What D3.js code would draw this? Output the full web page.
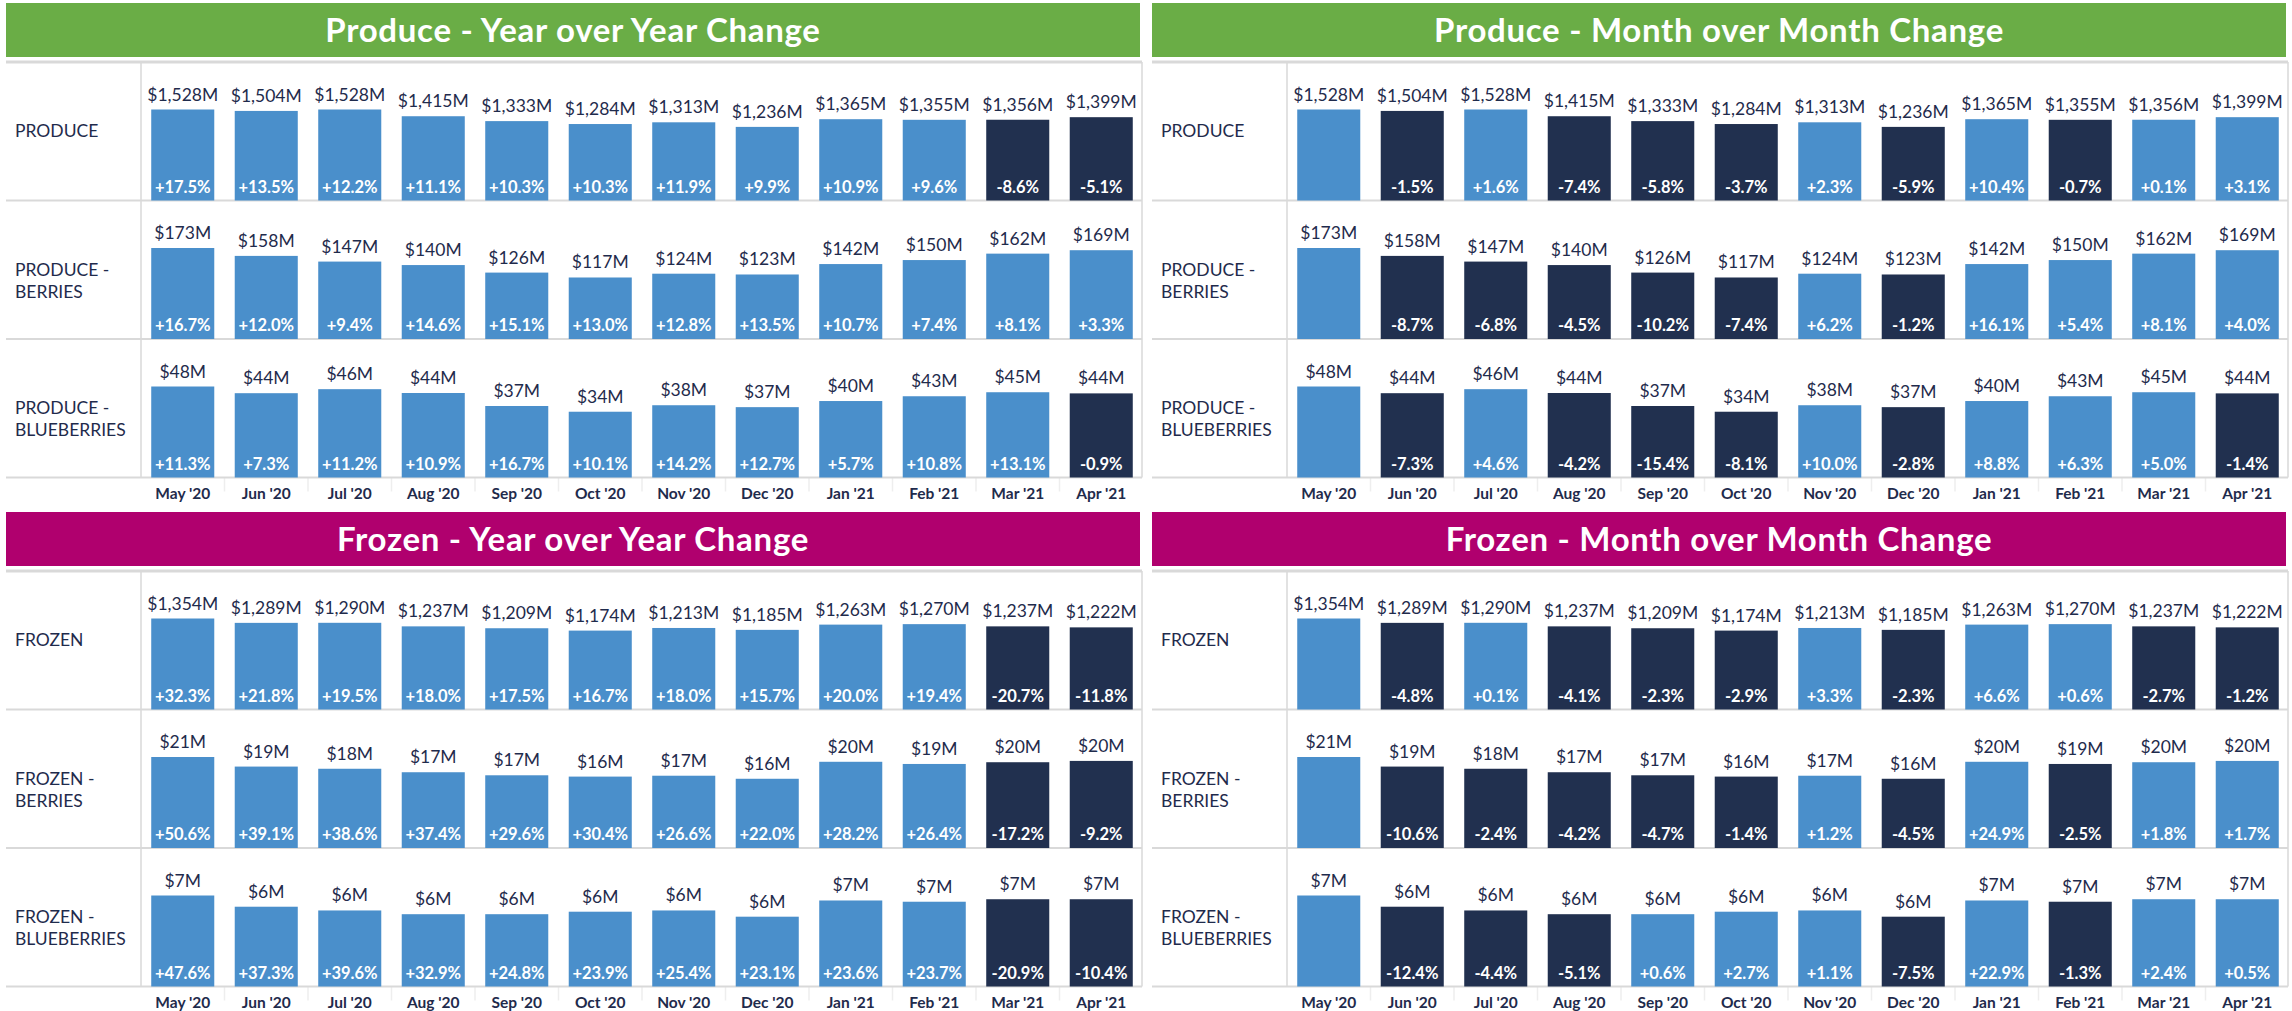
<!DOCTYPE html>
<html>
<head>
<meta charset="utf-8">
<script src="https://cdn.jsdelivr.net/npm/d3@7"></script>
<style>
  html, body { margin: 0; padding: 0; background: #fff; }
  svg { display: block; font-family: Lato, "Open Sans", sans-serif; }
</style>
</head>
<body>
<svg id="chart" width="2292" height="1011"></svg>
<script>
// months on the x axis
const months = ["May '20", "Jun '20", "Jul '20", "Aug '20", "Sep '20", "Oct '20",
  "Nov '20", "Dec '20", "Jan '21", "Feb '21", "Mar '21", "Apr '21"];

// sales, $M
const produceSales = [1528, 1504, 1528, 1415, 1333, 1284, 1313, 1236, 1365, 1355, 1356, 1399];
const produceBerriesSales = [172.8, 157.8, 147.0, 140.4, 126.1, 116.8, 124.0, 122.5, 142.3, 149.9, 162.1, 168.6];
const produceBlueberriesSales = [47.6, 44.1, 46.2, 44.2, 37.4, 34.4, 37.8, 36.8, 40.0, 42.5, 44.6, 44.0];
const frozenSales = [1354, 1289, 1290, 1237, 1209, 1174, 1213, 1185, 1263, 1270, 1237, 1222];
const frozenBerriesSales = [20.9, 18.7, 18.2, 17.4, 16.7, 16.4, 16.6, 15.9, 19.8, 19.3, 19.7, 20.0];
const frozenBlueberriesSales = [7.3, 6.4, 6.1, 5.8, 5.8, 6.0, 6.1, 5.6, 6.9, 6.8, 7.0, 7.0];

// year over year change, %
const produceYoY = [17.5, 13.5, 12.2, 11.1, 10.3, 10.3, 11.9, 9.9, 10.9, 9.6, -8.6, -5.1];
const produceBerriesYoY = [16.7, 12.0, 9.4, 14.6, 15.1, 13.0, 12.8, 13.5, 10.7, 7.4, 8.1, 3.3];
const produceBlueberriesYoY = [11.3, 7.3, 11.2, 10.9, 16.7, 10.1, 14.2, 12.7, 5.7, 10.8, 13.1, -0.9];
const frozenYoY = [32.3, 21.8, 19.5, 18.0, 17.5, 16.7, 18.0, 15.7, 20.0, 19.4, -20.7, -11.8];
const frozenBerriesYoY = [50.6, 39.1, 38.6, 37.4, 29.6, 30.4, 26.6, 22.0, 28.2, 26.4, -17.2, -9.2];
const frozenBlueberriesYoY = [47.6, 37.3, 39.6, 32.9, 24.8, 23.9, 25.4, 23.1, 23.6, 23.7, -20.9, -10.4];

// month over month change, % (first month has none)
const produceMoM = [null, -1.5, 1.6, -7.4, -5.8, -3.7, 2.3, -5.9, 10.4, -0.7, 0.1, 3.1];
const produceBerriesMoM = [null, -8.7, -6.8, -4.5, -10.2, -7.4, 6.2, -1.2, 16.1, 5.4, 8.1, 4.0];
const produceBlueberriesMoM = [null, -7.3, 4.6, -4.2, -15.4, -8.1, 10.0, -2.8, 8.8, 6.3, 5.0, -1.4];
const frozenMoM = [null, -4.8, 0.1, -4.1, -2.3, -2.9, 3.3, -2.3, 6.6, 0.6, -2.7, -1.2];
const frozenBerriesMoM = [null, -10.6, -2.4, -4.2, -4.7, -1.4, 1.2, -4.5, 24.9, -2.5, 1.8, 1.7];
const frozenBlueberriesMoM = [null, -12.4, -4.4, -5.1, 0.6, 2.7, 1.1, -7.5, 22.9, -1.3, 2.4, 0.5];

const produceLabels = [["PRODUCE"], ["PRODUCE -", "BERRIES"], ["PRODUCE -", "BLUEBERRIES"]];
const frozenLabels = [["FROZEN"], ["FROZEN -", "BERRIES"], ["FROZEN -", "BLUEBERRIES"]];

const sections = [
  {
    name: "Produce", color: "#6aad46", top: 3, labels: produceLabels,
    sales: [produceSales, produceBerriesSales, produceBlueberriesSales],
    yoy: [produceYoY, produceBerriesYoY, produceBlueberriesYoY],
    mom: [produceMoM, produceBerriesMoM, produceBlueberriesMoM]
  },
  {
    name: "Frozen", color: "#b0006e", top: 512, labels: frozenLabels,
    sales: [frozenSales, frozenBerriesSales, frozenBlueberriesSales],
    yoy: [frozenYoY, frozenBerriesYoY, frozenBlueberriesYoY],
    mom: [frozenMoM, frozenBerriesMoM, frozenBlueberriesMoM]
  }
];

const panels = [
  { x: 6, title: "Year over Year Change", key: "yoy" },
  { x: 1152, title: "Month over Month Change", key: "mom" }
];

const panelW = 1138, labelW = 135, headerH = 54, rowH = 138.5, barMax = 91;
const lightBlue = "#4a8fcb", darkBlue = "#21304f", navy = "#1f2b4c", lineGray = "#d9d9d9";

const loc = d3.formatLocale({ decimal: ".", thousands: ",", grouping: [3], currency: ["$", ""], minus: "-" });
const fmtSales = v => loc.format("$,.0f")(v) + "M";
const fmtPct = v => loc.format("+.1f")(v) + "%";

const svg = d3.select("#chart");

sections.forEach(sec => {
  panels.forEach(p => {
    const g = svg.append("g").attr("transform", `translate(${p.x},${sec.top})`);
    const rowsTop = headerH + 5;
    const rowsBottom = rowsTop + rowH * 3;

    // header band
    g.append("rect").attr("x", 0).attr("y", 0).attr("width", panelW - 4).attr("height", headerH)
      .attr("fill", sec.color);
    g.append("text").attr("x", (panelW - 4) / 2).attr("y", headerH / 2).attr("dy", "0.35em")
      .attr("text-anchor", "middle").attr("fill", "#fff").attr("font-size", 33).attr("font-weight", 700)
      .attr("letter-spacing", 0.7)
      .text(`${sec.name} - ${p.title}`);

    const x = d3.scaleBand().domain(months).range([labelW, panelW - 1])
      .paddingInner(0.245).paddingOuter(0.1225);

    // grid lines
    g.append("line").attr("x1", 0).attr("x2", panelW - 2).attr("y1", rowsTop).attr("y2", rowsTop)
      .attr("stroke", lineGray).attr("stroke-width", 3);
    g.append("line").attr("x1", labelW).attr("x2", labelW).attr("y1", rowsTop).attr("y2", rowsBottom)
      .attr("stroke", lineGray).attr("stroke-width", 1.5);
    g.append("line").attr("x1", panelW - 2).attr("x2", panelW - 2).attr("y1", rowsTop).attr("y2", rowsBottom)
      .attr("stroke", lineGray).attr("stroke-width", 1.5);

    // month separators under the last row
    g.append("g").selectAll("line").data(months.slice(1)).join("line")
      .attr("x1", d => x(d) - x.step() * x.paddingInner() / 2)
      .attr("x2", d => x(d) - x.step() * x.paddingInner() / 2)
      .attr("y1", rowsBottom).attr("y2", rowsBottom + 14)
      .attr("stroke", "#eeeeee").attr("stroke-width", 1.5);

    sec.sales.forEach((sales, r) => {
      const bottom = rowsTop + rowH * (r + 1);
      const center = rowsTop + rowH * r + rowH / 2;
      const change = sec[p.key][r];
      const y = d3.scaleLinear().domain([0, d3.max(sales)]).range([bottom, bottom - barMax]);
      const rows = months.map((m, i) => ({ m, v: sales[i], c: change[i] }));

      g.append("line").attr("x1", 0).attr("x2", panelW - 2).attr("y1", bottom).attr("y2", bottom)
        .attr("stroke", lineGray).attr("stroke-width", 2);

      g.append("text").attr("x", 9).attr("y", center).attr("fill", navy).attr("font-size", 17.5)
        .selectAll("tspan").data(sec.labels[r]).join("tspan")
        .attr("x", 9).attr("dy", (d, i) => i === 0 ? "0.35em" : 22).text(d => d);

      const bars = g.append("g");
      bars.selectAll("rect").data(rows).join("rect")
        .attr("x", d => x(d.m)).attr("width", x.bandwidth())
        .attr("y", d => y(d.v)).attr("height", d => bottom - y(d.v))
        .attr("fill", d => d.c != null && d.c < 0 ? darkBlue : lightBlue);

      bars.selectAll("text.val").data(rows).join("text").attr("class", "val")
        .attr("x", d => x(d.m) + x.bandwidth() / 2).attr("y", d => y(d.v) - 9)
        .attr("text-anchor", "middle").attr("fill", navy).attr("font-size", 17.5)
        .text(d => fmtSales(d.v));

      bars.selectAll("text.pct").data(rows.filter(d => d.c != null)).join("text").attr("class", "pct")
        .attr("x", d => x(d.m) + x.bandwidth() / 2).attr("y", bottom - 8)
        .attr("text-anchor", "middle").attr("fill", "#fff").attr("font-size", 16.5).attr("font-weight", 700)
        .text(d => fmtPct(d.c));
    });

    // month labels
    g.append("g").selectAll("text").data(months).join("text")
      .attr("x", d => x(d) + x.bandwidth() / 2).attr("y", rowsBottom + 16).attr("dy", "0.35em")
      .attr("text-anchor", "middle").attr("fill", navy).attr("font-size", 15.5).attr("font-weight", 700)
      .text(d => d);
  });
});
</script>
</body>
</html>
